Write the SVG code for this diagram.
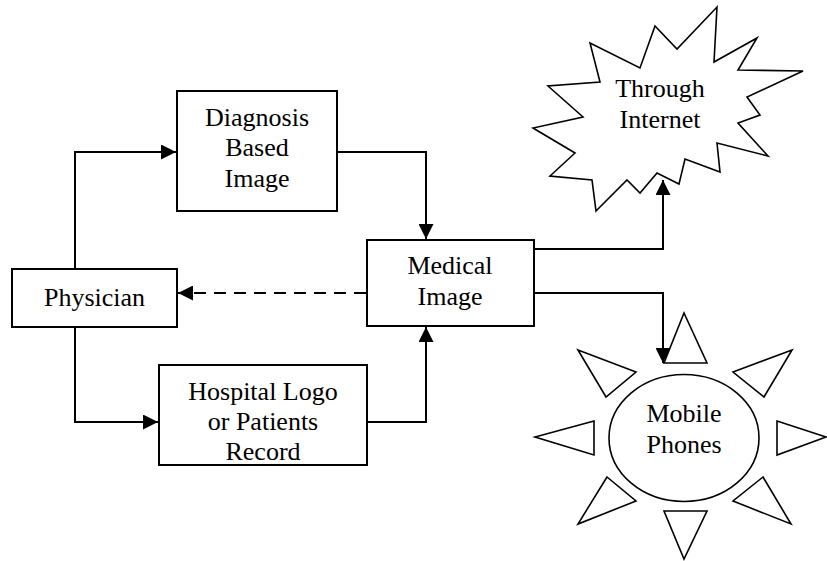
<svg xmlns="http://www.w3.org/2000/svg" width="827" height="561" viewBox="0 0 827 561">
<style>
.box{fill:#fff;stroke:#000;stroke-width:2}
.shape{fill:#fff;stroke:#000;stroke-width:1.6;stroke-linejoin:miter}
.conn{fill:none;stroke:#000;stroke-width:2}
.dash{stroke-dasharray:12 8}
text{font-family:"Liberation Serif","Times New Roman",serif;font-size:26px;fill:#000;text-anchor:middle}
</style>
<defs>
<marker id="arr" markerUnits="userSpaceOnUse" markerWidth="15" markerHeight="15" refX="15" refY="7.5" orient="auto">
<path d="M0,0 L15,7.5 L0,15 z" fill="#000"/>
</marker>
</defs>
<g id="connectors">
<path class="conn" d="M75,269 V152 H176" marker-end="url(#arr)"/>
<path class="conn" d="M75,327 V422 H158" marker-end="url(#arr)"/>
<path class="conn" d="M337,152 H426 V239" marker-end="url(#arr)"/>
<path class="conn" d="M367,422 H426 V327" marker-end="url(#arr)"/>
<path class="conn dash" d="M366,293 H178" marker-end="url(#arr)"/>
<path class="conn" d="M534,249 H663 V180" marker-end="url(#arr)"/>
<path class="conn" d="M534,293 H663 V363" marker-end="url(#arr)"/>
</g>
<g id="diagnosis">
<rect class="box" x="177" y="91" width="160" height="120"/>
<text x="257" y="126">Diagnosis</text>
<text x="257" y="156">Based</text>
<text x="257" y="187">Image</text>
</g>
<g id="physician">
<rect class="box" x="12" y="269" width="165" height="58"/>
<text x="94.5" y="306">Physician</text>
</g>
<g id="medical">
<rect class="box" x="367" y="240" width="167" height="86"/>
<text x="450" y="274">Medical</text>
<text x="450" y="305">Image</text>
</g>
<g id="hospital">
<rect class="box" x="159" y="365" width="208" height="100"/>
<text x="263" y="400">Hospital Logo</text>
<text x="263" y="430">or Patients</text>
<text x="263" y="460">Record</text>
</g>
<g id="internet">
<polygon class="shape" points="596,211 627,180 640,193 657,173 679,184 685,159 720,172 717,143 768,156 738,123 760,115 747,97 803,71 738,70 757,38 714,62 717,7 677,49 655,26 640,68 590,43 600,82 548,86 583,117 533,128 575,153 550,176 592,180"/>
<text x="660" y="97">Through</text>
<text x="660" y="128">Internet</text>
</g>
<g id="mobile">
<polygon class="shape" points="684,313 707,363 664,363"/>
<polygon class="shape" points="792,350 733,372 764,397"/>
<polygon class="shape" points="777,421 826,437 777,455"/>
<polygon class="shape" points="763,477 733,501 791,524"/>
<polygon class="shape" points="664,511 707,511 684,559"/>
<polygon class="shape" points="607,477 636,501 578,524"/>
<polygon class="shape" points="594,421 535,437 594,455"/>
<polygon class="shape" points="578,350 636,372 606,397"/>
<ellipse class="shape" cx="684" cy="438" rx="75" ry="63.5"/>
<text x="684" y="422">Mobile</text>
<text x="684" y="453">Phones</text>
</g>
</svg>
